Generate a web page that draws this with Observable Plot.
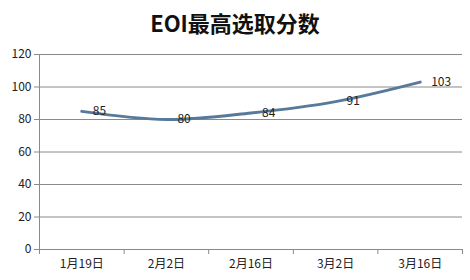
<!DOCTYPE html>
<html>
<head>
<meta charset="utf-8">
<script src="https://cdn.jsdelivr.net/npm/d3@7"></script>
<script src="https://cdn.jsdelivr.net/npm/@observablehq/plot@0.6"></script>
<style>
  html, body { margin: 0; padding: 0; background: #fff; }
  #title { height: 40px; line-height: 44px; text-align: center; font-family: "Noto Sans CJK SC", sans-serif; font-weight: bold; font-size: 22px; color: #111; width: 470px; }
</style>
</head>
<body>
<div id="title">EOI最高选取分数</div>
<div id="chart"></div>
<script>
const categories = ["1月19日", "2月2日", "2月16日", "3月2日", "3月16日"];
const values = [85, 80, 84, 91, 103];
const yTicks = [0, 20, 40, 60, 80, 100, 120];

const data = categories.map((c, i) => ({i, c, v: values[i]}));
const centers = categories.map((c, i) => i);
const bounds = d3.range(-0.5, categories.length, 1);

const chart = Plot.plot({
  width: 470,
  height: 240,
  marginLeft: 39,
  marginRight: 8,
  marginTop: 14,
  marginBottom: 31,
  style: {fontFamily: "'Noto Sans CJK SC', sans-serif", fontSize: "12px", color: "#222", background: "#fff"},
  x: {domain: [-0.5, categories.length - 0.5]},
  y: {domain: [0, 120]},
  marks: [
    Plot.gridY(yTicks, {stroke: "#8a8a8a", strokeOpacity: 1}),
    Plot.frame({anchor: "left", stroke: "#8a8a8a"}),
    Plot.axisY(yTicks, {tickSize: 5, tickPadding: 3, stroke: "#8a8a8a", label: null, fill: "#222"}),
    Plot.axisX(bounds, {tickSize: 5, tickFormat: () => "", stroke: "#8a8a8a", label: null}),
    Plot.axisX(centers, {tickSize: 0, tickPadding: 10, tickFormat: i => categories[i], label: null, fill: "#222"}),
    Plot.line(data, {x: "i", y: "v", stroke: "#57799a", strokeWidth: 3, curve: "catmull-rom"}),
    Plot.text(data, {x: "i", y: "v", text: d => String(d.v), dx: 11, textAnchor: "start", fill: "#222", fontSize: 12})
  ]
});
document.getElementById("chart").appendChild(chart);
</script>
</body>
</html>
